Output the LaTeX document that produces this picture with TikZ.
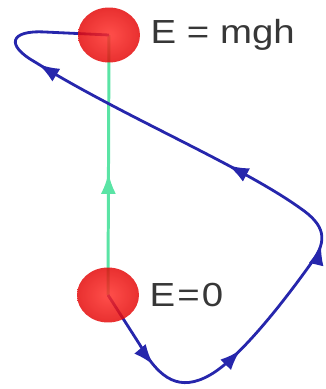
\documentclass[tikz,border=0pt]{standalone}
\usepackage{fontspec}
\setmainfont{Liberation Sans}
\usetikzlibrary{positioning}
\usetikzlibrary{arrows.meta, shapes.geometric, decorations.markings}
\definecolor{ballred}{RGB}{228,8,8}
\definecolor{balllight}{RGB}{255,45,40}
\definecolor{pathblue}{RGB}{38,38,172}
\definecolor{mint}{RGB}{90,228,165}
\definecolor{txtgray}{RGB}{55,55,55}

\begin{document}
\begin{tikzpicture}[x=0.02cm, y=-0.02cm]
    \useasboundingbox (0,0) rectangle (325,389);
    \tikzset{
        ball/.style={ellipse, minimum width=1.24cm, minimum height=1.1cm, inner sep=0pt,
            shading=radial, inner color=balllight, outer color=ballred, fill opacity=0.84},
        lbl/.style={inner sep=0pt, text=txtgray, font=\fontsize{19}{22}\selectfont},
        tipmark/.style={postaction={decorate, decoration={markings,
            mark=at position #1 with {\arrow{Latex[length=0.42cm, width=0.3cm]}}}}}
    }
    % Tâm hai quả bóng
    \coordinate (topc) at (109,35);
    \coordinate (botc) at (108,295);

    % Đường thẳng màu xanh lá từ dưới lên trên
    \draw[mint, line width=1.7pt, tipmark=0.47] (botc) -- (topc);

    % Đường cong màu xanh dương
    \draw[pathblue, line width=1.6pt, tipmark=0.105, tipmark=0.235, tipmark=0.403,
        tipmark=0.565, tipmark=0.835]
        (botc) -- (140,345) .. controls (160,380) and (180,392) .. (210,375)
        .. controls (240,358) and (285,300) .. (312,262)
        .. controls (328,240) and (325,225) .. (300,208)
        .. controls (240,165) and (120,115) .. (35,62)
        .. controls (5,45) and (10,30) .. (45,32) -- (topc);

    % Hai quả bóng
    \node[ball] (top) at (topc) {};
    \node[ball] (bot) at (botc) {};

    % Nhãn năng lượng
    \node[lbl, anchor=west, right=0.2cm of top] (etop) {\scalebox{1.15}[1]{E = mgh}};
    \node[lbl, anchor=west, right=0.2cm of bot] (ebot) {\scalebox{1.15}[1]{E\kern1pt=\kern1pt0}};
\end{tikzpicture}
\end{document}
